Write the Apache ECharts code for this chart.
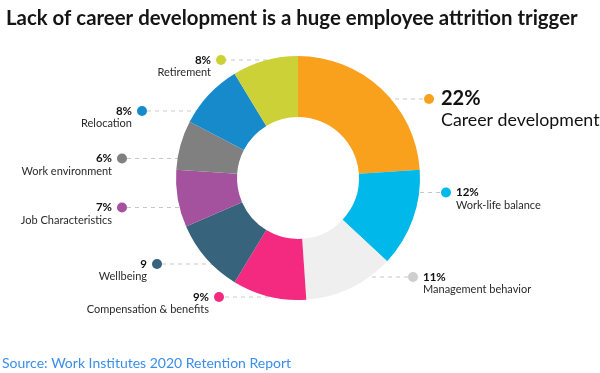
<!DOCTYPE html>
<html><head><meta charset="utf-8">
<script src="https://cdn.jsdelivr.net/npm/echarts@6/dist/echarts.min.js"></script>
<style>html,body{margin:0;padding:0;background:#fff}#c{width:600px;height:373px}</style>
</head><body><div id="c"></div>
<script>
// ---- data ----
const categories = ['Career development','Work-life balance','Management behavior','Compensation & benefits','Wellbeing','Job Characteristics','Work environment','Relocation','Retirement'];
const values = [22, 12, 11, 9, 9, 7, 6, 8, 8];
const valueLabels = ['22%','12%','11%','9%','9','7%','6%','8%','8%'];
// ---- styles / layout (not data) ----
const colors = ['#F9A11D','#00B8E9','#EFEFEF','#F42A80','#37637C','#A5529E','#808080','#178ACB','#CBD136'];
const dotColors = ['#F9A11D','#00B8E9','#CFCFCF','#F42A80','#37637C','#A5529E','#808080','#178ACB','#CBD136'];
// [dotX, dotY, lineInnerX, side]
const anchors = [[429,99,387,'r'],[446,192.5,380,'r'],[413,277,348,'r'],[219,297,285,'l'],[157,264,222,'l'],[122,207.5,187,'l'],[122,158.5,187,'l'],[142,111,207,'l'],[221,60,283,'l']];
const FONT = 'Lato';
const rich = {
  sp:{width:5},
  spb:{width:7},
  v:{fontFamily:FONT,fontWeight:'bold',fontSize:11.5,color:'#111',lineHeight:13},
  vb:{fontFamily:FONT,fontWeight:'bold',fontSize:20,color:'#111',lineHeight:22},
  nr:{fontFamily:FONT,fontSize:11,color:'#2a2a2a',lineHeight:12,padding:[0,0,0,15]},
  nl:{fontFamily:FONT,fontSize:11,color:'#2a2a2a',lineHeight:12,padding:[0,15,0,0]},
  nb:{fontFamily:FONT,fontSize:17.8,color:'#111',lineHeight:21,padding:[0,0,0,17]}
};
dotColors.forEach((c,i)=>{ rich['d'+i] = {width:10,height:10,borderRadius:5,backgroundColor:c}; });
const data = categories.map((n,i)=>{
  const a = anchors[i];
  let f;
  if (i===0) f = '{d0|}{spb|}{vb|'+valueLabels[i]+'}\n{nb|'+n+'}';
  else if (a[3]==='r') f = '{d'+i+'|}{sp|}{v|'+valueLabels[i]+'}\n{nr|'+n+'}';
  else f = '{v|'+valueLabels[i]+'}{sp|}{d'+i+'|}\n{nl|'+n+'}';
  return {name:n, value:values[i], itemStyle:{color:colors[i]}, label:{formatter:f, align:a[3]==='r'?'left':'right'}};
});
const chart = echarts.init(document.getElementById('c'), null, {renderer:'canvas'});
chart.setOption({
  animation:false,
  backgroundColor:'#fff',
  title:[{text:'Lack of career development is a huge employee attrition trigger',left:1,top:3,
    textStyle:{fontFamily:FONT,fontWeight:'bold',fontSize:20.4,color:'#151515'}},
    {text:'Source: Work Institutes 2020 Retention Report',left:-3,top:351,
    textStyle:{fontFamily:FONT,fontWeight:'normal',fontSize:14,color:'#3A8EEA'}}],
  series:[{
    type:'pie', center:[298,178], radius:[61,122], startAngle:90, clockwise:true,
    avoidLabelOverlap:false, silent:true,
    label:{show:true, position:'outside', rich:rich},
    labelLine:{show:true, lineStyle:{color:'#C8C8C8', type:[4,4], width:1}},
    labelLayout:function(p){
      const a = anchors[p.dataIndex];
      const big = p.dataIndex===0;
      const h1 = big?22:13;
      const right = a[3]==='r';
      const edge = right ? a[0]-5 : a[0]+5;
      return {x:edge, y:a[1]-h1/2, align:right?'left':'right', verticalAlign:'top',
        labelLinePoints:[[a[2],a[1]],[edge,a[1]],[edge,a[1]]]};
    },
    data:data
  }]
});
</script></body></html>
